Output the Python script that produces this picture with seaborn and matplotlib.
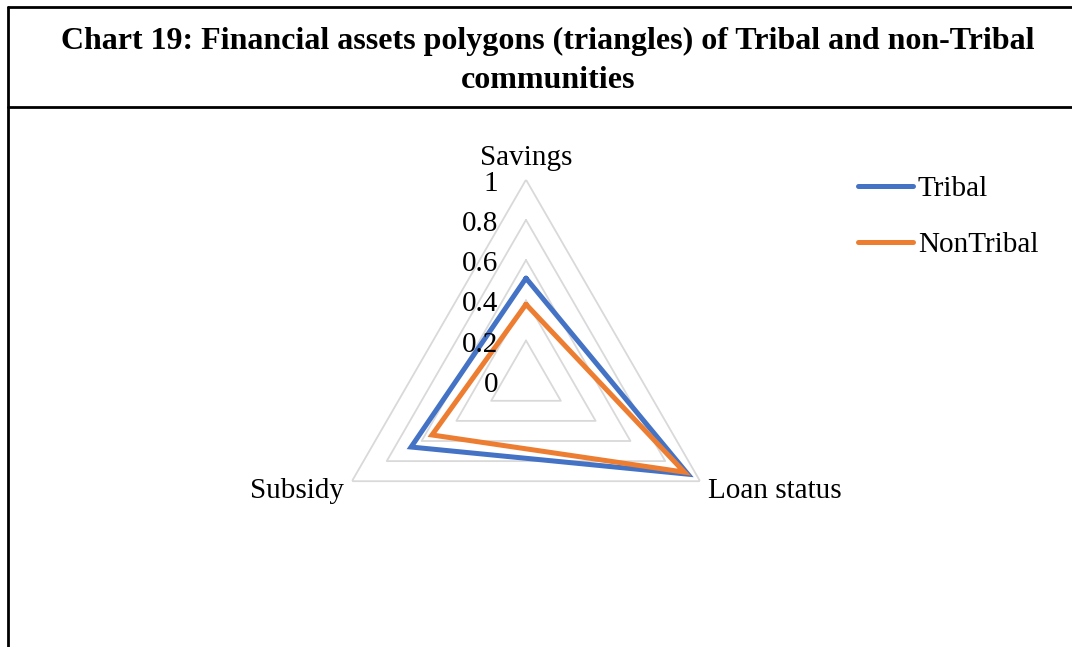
import numpy as np
import pandas as pd
import matplotlib
matplotlib.use("Agg")
import matplotlib.pyplot as plt
import matplotlib.transforms as mtransforms
from matplotlib.lines import Line2D
import seaborn as sns

# ---- data ----
categories = ["Savings", "Loan status", "Subsidy"]
tribal = [0.51, 0.93, 0.66]
nontribal = [0.38, 0.91, 0.54]
series_names = ["Tribal", "NonTribal"]
grid_levels = [0.2, 0.4, 0.6, 0.8, 1.0]
tick_labels = ["0", "0.2", "0.4", "0.6", "0.8", "1"]
tick_values = [0, 0.2, 0.4, 0.6, 0.8, 1.0]
title = "Chart 19: Financial assets polygons (triangles) of Tribal and non-Tribal\ncommunities"

sns.set_theme(style="white")
plt.rcParams["font.family"] = ["Liberation Serif", "DejaVu Serif"]
plt.rcParams["text.color"] = "black"

W, H = 1072, 647
fig = plt.figure(figsize=(W / 100, H / 100), dpi=100)
fig.patch.set_facecolor("white")

# frame lines (figure pixel coords)
def px(x, y):
    return x / W, 1 - y / H

for (x0, y0), (x1, y1) in [((8, 7), (1072, 7)), ((8, 7), (8, 647)), ((8, 107), (1072, 107))]:
    a, b = px(x0, y0)
    c, d = px(x1, y1)
    fig.add_artist(Line2D([a, c], [b, d], color="black", lw=2.0, transform=fig.transFigure))

fig.text(548 / W, 1 - 61 / H, title, ha="center", va="center", fontsize=23,
         fontweight="bold", linespacing=1.42, color="black")

# polar axes: center (526, 380.7), radius 201 px
cx, cy, R = 526, 380.7, 201
ax = fig.add_axes([(cx - R) / W, 1 - (cy + R) / H, 2 * R / W, 2 * R / H], projection="polar")
ax.set_theta_zero_location("N")
ax.set_theta_direction(-1)
ax.set_ylim(0, 1)
ax.grid(False)
ax.spines["polar"].set_visible(False)
ax.set_xticks([])
ax.set_yticks([])
ax.patch.set_alpha(0)

n = len(categories)
angles = [2 * np.pi * i / n for i in range(n)]
closed = angles + [angles[0]]

for lv in grid_levels:
    ax.plot(closed, [lv] * (n + 1), color="#D9D9D9", lw=1.3, zorder=1)

rows = []
for name, vals in zip(series_names, [tribal, nontribal]):
    vv = list(vals) + [vals[0]]
    for i, (a, v) in enumerate(zip(closed, vv)):
        rows.append({"angle": a, "value": v, "series": name, "order": i})
df = pd.DataFrame(rows)
palette = {"Tribal": "#4472C4", "NonTribal": "#ED7D31"}
sns.lineplot(data=df, x="angle", y="value", hue="series", palette=palette, sort=False,
             estimator=None, ax=ax, lw=3.6, legend=False, zorder=3)
for ln in ax.lines[-2:]:
    ln.set_solid_joinstyle("miter")
ax.set_xlabel("")
ax.set_ylabel("")
ax.set_ylim(0, 1)

# radial tick labels
off = mtransforms.offset_copy(ax.transData, fig=fig, x=-28, y=-4, units="dots")
for v, lab in zip(tick_values, tick_labels):
    ax.text(0, v, lab, transform=off, ha="right", va="center", fontsize=21, color="black")

# category labels
lab_off = [(0, 22, "center"), (8, -10, "left"), (-8, -10, "right")]
for a, c, (dx, dy, ha) in zip(angles, categories, lab_off):
    t = mtransforms.offset_copy(ax.transData, fig=fig, x=dx, y=dy, units="dots")
    ax.text(a, 1.0, c, transform=t, ha=ha, va="center", fontsize=21, color="black")

# legend
handles = [Line2D([], [], color=palette[s], lw=3.6, solid_capstyle="round") for s in series_names]
lx, ly = px(858, 176)
fig.legend(handles, series_names, loc="upper left", bbox_to_anchor=(lx, ly), frameon=False,
           fontsize=21, handlelength=1.88, handletextpad=0.17, labelspacing=1.0,
           borderpad=0, borderaxespad=0, labelcolor="black")

fig.savefig("out.png", dpi=100, facecolor="white")
